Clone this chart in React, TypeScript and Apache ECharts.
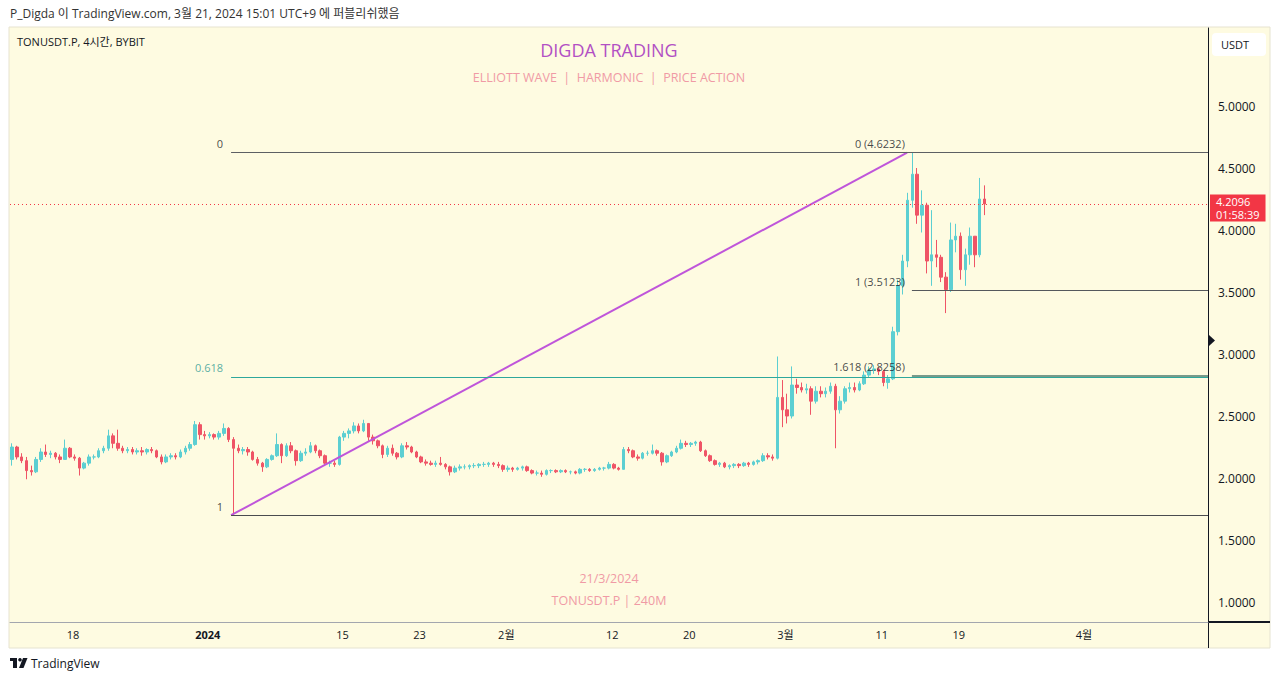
import React, { useEffect, useRef } from 'react';
import * as echarts from 'echarts';

// ---------- data (12h candles) ----------
const firstBar = '2023-12-11 16:00';
const barHours = 12;
const firstOpen = 2.15;
const closes = [
  2.25, 2.17, 2.14, 2.06, 2.05, 2.15, 2.21, 2.19, 2.20, 2.17,
  2.15, 2.24, 2.17, 2.16, 2.08, 2.12, 2.17, 2.17, 2.22, 2.24,
  2.34, 2.28, 2.24, 2.22, 2.23, 2.21, 2.22, 2.21, 2.23, 2.22,
  2.17, 2.13, 2.17, 2.18, 2.17, 2.21, 2.24, 2.27, 2.43, 2.35,
  2.34, 2.35, 2.33, 2.36, 2.40, 2.31, 2.24, 2.22, 2.23, 2.21,
  2.15, 2.12, 2.09, 2.15, 2.18, 2.27, 2.18, 2.26, 2.22, 2.14,
  2.20, 2.21, 2.26, 2.22, 2.18, 2.12, 2.12, 2.11, 2.33, 2.36,
  2.38, 2.42, 2.38, 2.44, 2.33, 2.30, 2.26, 2.19, 2.24, 2.20,
  2.17, 2.26, 2.25, 2.21, 2.17, 2.13, 2.12, 2.11, 2.12, 2.11,
  2.09, 2.05, 2.08, 2.09, 2.09, 2.10, 2.10, 2.11, 2.11, 2.12,
  2.11, 2.10, 2.07, 2.08, 2.07, 2.08, 2.09, 2.06, 2.04, 2.04,
  2.03, 2.06, 2.06, 2.05, 2.06, 2.05, 2.05, 2.04, 2.07, 2.07,
  2.06, 2.07, 2.08, 2.08, 2.11, 2.08, 2.07, 2.23, 2.22, 2.17,
  2.16, 2.20, 2.20, 2.22, 2.20, 2.13, 2.18, 2.21, 2.24, 2.28,
  2.27, 2.28, 2.29, 2.22, 2.18, 2.14, 2.11, 2.12, 2.09, 2.10,
  2.11, 2.10, 2.12, 2.11, 2.13, 2.14, 2.18, 2.17, 2.16, 2.65,
  2.55, 2.50, 2.75, 2.73, 2.71, 2.72, 2.62, 2.70, 2.68, 2.70,
  2.74, 2.55, 2.62, 2.72, 2.73, 2.71, 2.76, 2.83, 2.87, 2.88,
  2.86, 2.77, 2.80, 3.18, 3.55, 3.75, 4.24, 4.45, 4.12, 4.20,
  3.75, 3.80, 3.78, 3.62, 3.52, 3.92, 3.95, 3.68, 3.80, 3.95,
  3.80, 4.25, 4.2096,
];
const highs = [
  2.28, 2.26, 2.20, 2.17, 2.10, 2.17, 2.24, 2.27, 2.22, 2.21,
  2.19, 2.31, 2.25, 2.19, 2.17, 2.13, 2.19, 2.19, 2.24, 2.26,
  2.39, 2.36, 2.39, 2.26, 2.25, 2.25, 2.24, 2.25, 2.24, 2.25,
  2.23, 2.19, 2.19, 2.20, 2.20, 2.23, 2.26, 2.29, 2.46, 2.45,
  2.38, 2.37, 2.36, 2.38, 2.44, 2.41, 2.33, 2.27, 2.25, 2.25,
  2.22, 2.17, 2.13, 2.16, 2.19, 2.36, 2.28, 2.28, 2.29, 2.23,
  2.22, 2.24, 2.29, 2.27, 2.23, 2.19, 2.14, 2.14, 2.34, 2.38,
  2.40, 2.45, 2.44, 2.47, 2.44, 2.35, 2.31, 2.27, 2.26, 2.27,
  2.21, 2.28, 2.29, 2.26, 2.22, 2.18, 2.15, 2.14, 2.14, 2.17,
  2.12, 2.10, 2.10, 2.11, 2.11, 2.11, 2.12, 2.12, 2.13, 2.13,
  2.13, 2.13, 2.11, 2.10, 2.09, 2.09, 2.10, 2.10, 2.07, 2.06,
  2.06, 2.07, 2.07, 2.07, 2.07, 2.07, 2.06, 2.06, 2.08, 2.08,
  2.08, 2.08, 2.09, 2.09, 2.13, 2.12, 2.09, 2.25, 2.25, 2.23,
  2.19, 2.21, 2.22, 2.27, 2.23, 2.21, 2.19, 2.22, 2.26, 2.31,
  2.30, 2.29, 2.30, 2.30, 2.23, 2.19, 2.15, 2.13, 2.13, 2.11,
  2.12, 2.12, 2.13, 2.13, 2.14, 2.15, 2.20, 2.20, 2.19, 2.98,
  2.79, 2.68, 2.90, 2.80, 2.77, 2.76, 2.74, 2.74, 2.74, 2.73,
  2.77, 2.76, 2.66, 2.74, 2.77, 2.77, 2.78, 2.86, 2.90, 2.91,
  2.89, 2.87, 2.83, 3.22, 3.60, 3.80, 4.30, 4.6232, 4.50, 4.32,
  4.22, 4.16, 3.92, 3.80, 3.66, 4.06, 4.05, 3.98, 3.85, 4.02,
  3.95, 4.42, 4.36,
];
const lows = [
  2.10, 2.15, 2.12, 1.99, 2.02, 2.04, 2.13, 2.17, 2.16, 2.15,
  2.12, 2.15, 2.16, 2.14, 2.02, 2.07, 2.10, 2.15, 2.16, 2.20,
  2.22, 2.24, 2.22, 2.20, 2.20, 2.19, 2.19, 2.18, 2.19, 2.20,
  2.16, 2.11, 2.12, 2.15, 2.15, 2.16, 2.19, 2.22, 2.26, 2.31,
  2.31, 2.32, 2.31, 2.31, 2.34, 2.29, 1.70, 2.20, 2.19, 2.18,
  2.14, 2.10, 2.05, 2.08, 2.14, 2.17, 2.12, 2.17, 2.20, 2.10,
  2.13, 2.18, 2.20, 2.20, 2.16, 2.10, 2.09, 2.09, 2.10, 2.30,
  2.32, 2.36, 2.36, 2.37, 2.30, 2.27, 2.24, 2.16, 2.17, 2.18,
  2.15, 2.16, 2.23, 2.20, 2.16, 2.12, 2.10, 2.10, 2.09, 2.10,
  2.07, 2.02, 2.04, 2.06, 2.07, 2.07, 2.08, 2.08, 2.09, 2.09,
  2.09, 2.08, 2.05, 2.05, 2.05, 2.06, 2.06, 2.05, 2.03, 2.02,
  2.01, 2.02, 2.04, 2.04, 2.04, 2.04, 2.03, 2.03, 2.03, 2.05,
  2.05, 2.05, 2.06, 2.06, 2.07, 2.07, 2.06, 2.07, 2.20, 2.16,
  2.14, 2.15, 2.18, 2.19, 2.18, 2.10, 2.12, 2.17, 2.20, 2.23,
  2.25, 2.25, 2.26, 2.21, 2.17, 2.13, 2.10, 2.09, 2.08, 2.07,
  2.08, 2.08, 2.09, 2.09, 2.10, 2.11, 2.13, 2.15, 2.14, 2.15,
  2.41, 2.44, 2.48, 2.68, 2.69, 2.68, 2.51, 2.60, 2.65, 2.65,
  2.68, 2.24, 2.52, 2.60, 2.69, 2.69, 2.70, 2.75, 2.81, 2.84,
  2.83, 2.74, 2.72, 2.79, 3.15, 3.48, 3.70, 4.18, 4.05, 3.98,
  3.65, 3.55, 3.70, 3.58, 3.33, 3.50, 3.82, 3.60, 3.55, 3.72,
  3.70, 3.78, 4.12,
];

const tickDates = ['2023-12-18', '2024-01-01', '2024-01-15', '2024-01-23', '2024-02-01', '2024-02-12', '2024-02-20', '2024-03-01', '2024-03-11', '2024-03-19', '2024-04-01'];
const tickTexts = ['18', '2024', '15', '23', '2월', '12', '20', '3월', '11', '19', '4월'];
const priceTicks = [1.0, 1.5, 2.0, 2.5, 3.0, 3.5, 4.0, 4.5, 5.0];
const axisStart = '2023-12-11 11:00';
const axisEnd = '2024-04-13 21:00';
const priceMin = 0.839;
const priceMax = 5.629;

// Fib retracement (low → high) and trend-based extension
const fibHigh = 4.6232;
const fibLow = 1.70;
const fibLevels = [0, 0.618, 1];
const fibStart = '2024-01-03 10:00';
const trendEnd = '2024-03-13 15:00';
const extBase = 3.5123;
const extLevels = [0, 1, 1.618];
const extStart = '2024-03-14 03:00';

const lastPrice = 4.2096;
const countdown = '01:58:39';

// ---------- helpers ----------
const toTime = (s: string) => {
  const [d, t = '00:00'] = s.split(' ');
  const [y, m, dd] = d.split('-').map(Number);
  const [h, mi] = t.split(':').map(Number);
  return Date.UTC(y, m - 1, dd, h, mi);
};

const FONT = '"Open Sans", "Noto Sans CJK KR", sans-serif';
const UP = '#5ccfd2';
const DOWN = '#ef5466';
const INK = '#131722';

export default function App() {
  const ref = useRef<HTMLDivElement>(null);

  useEffect(() => {
    if (!ref.current) return;
    const chart = echarts.init(ref.current, undefined, { renderer: 'svg' });

    const t0 = toTime(firstBar);
    const step = barHours * 3600 * 1000;
    const candles = closes.map((c, i) => [
      t0 + i * step,
      i === 0 ? firstOpen : closes[i - 1],
      c,
      lows[i],
      highs[i],
    ]);
    const xMin = toTime(axisStart);
    const xMax = toTime(axisEnd);
    const tickTimes = tickDates.map((d) => toTime(d));

    const fibPrice = (lv: number) => fibHigh - lv * (fibHigh - fibLow);
    const extPrice = (lv: number) => fibHigh - lv * (fibHigh - extBase);
    const tFib = toTime(fibStart);
    const tExt = toTime(extStart);

    const fibColors = ['#5d5f63', '#2ea79c', '#4a4b4f'];
    const fibLabelColors = [INK, '#2e9a93', INK];
    const extColors = ['#5d5f63', '#55585c', '#4d7a6c'];

    const markData: any[] = [];
    fibLevels.forEach((lv, k) => {
      const p = fibPrice(lv);
      const ls = { color: fibColors[k], width: 1, type: 'solid' };
      markData.push([
        { coord: [tFib, p], lineStyle: ls },
        { coord: [xMax, p], lineStyle: ls },
      ]);
    });
    extLevels.forEach((lv, k) => {
      const p = extPrice(lv);
      const ls = { color: extColors[k], width: k === 2 ? 1.5 : 1, type: 'solid' };
      markData.push([
        { coord: [tExt, p], lineStyle: ls },
        { coord: [xMax, p], lineStyle: ls },
      ]);
    });
    markData.push({
      yAxis: lastPrice,
      lineStyle: { color: '#f23645', width: 1, type: [1, 3] },
      label: {
        show: true,
        position: 'end',
        distance: 2,
        formatter: `{p|${lastPrice.toFixed(4)}}\n{t|${countdown}}`,
        backgroundColor: '#f23645',
        color: '#ffffff',
        fontFamily: FONT,
        fontSize: 11,
        lineHeight: 13,
        padding: [1, 6, 0, 6],
        align: 'left',
        offset: [0, 4],
        rich: {
          p: { color: '#ffffff', fontSize: 11, lineHeight: 13, fontFamily: FONT },
          t: { color: '#ffffff', fontSize: 11, lineHeight: 13, fontFamily: FONT },
        },
      },
    });

    const fibLabelData = fibLevels.map((lv, k) => ({
      value: [tFib, fibPrice(lv)],
      name: String(lv),
      label: { color: fibLabelColors[k] },
    }));
    const extLabelData = extLevels.map((lv) => ({
      value: [tExt, extPrice(lv)],
      name: `${lv} (${extPrice(lv).toFixed(4)})`,
    }));

    const subStyle = { color: '#f09aa5', fontSize: 12.5, fontWeight: 'normal', fontFamily: FONT };

    const option: any = {
      animation: false,
      backgroundColor: '#ffffff',
      textStyle: { fontFamily: FONT },
      title: [
        { text: 'DIGDA TRADING', left: 609, top: 41, textAlign: 'center', padding: 0,
          textStyle: { color: '#b250c4', fontSize: 18, fontWeight: 'normal', fontFamily: FONT } },
        { text: 'ELLIOTT WAVE  |  HARMONIC  |  PRICE ACTION', left: 609, top: 71, textAlign: 'center', padding: 0,
          textStyle: subStyle },
        { text: '21/3/2024', left: 609, top: 572, textAlign: 'center', padding: 0, textStyle: subStyle },
        { text: 'TONUSDT.P | 240M', left: 609, top: 594, textAlign: 'center', padding: 0, textStyle: subStyle },
      ],
      grid: { left: 10, right: 72, top: 28, bottom: 59, containLabel: false },
      xAxis: {
        type: 'value',
        min: xMin,
        max: xMax,
        axisLine: { show: true, lineStyle: { color: '#a3a6ae', width: 1 } },
        axisTick: { show: false },
        splitLine: { show: false },
        axisLabel: {
          customValues: tickTimes,
          margin: 7,
          color: INK,
          fontSize: 11,
          fontFamily: FONT,
          hideOverlap: false,
          formatter: (v: number) => {
            let best = 0;
            tickTimes.forEach((t, i) => {
              if (Math.abs(t - v) < Math.abs(tickTimes[best] - v)) best = i;
            });
            const txt = tickTexts[best];
            return txt === '2024' ? `{b|${txt}}` : txt;
          },
          rich: { b: { fontWeight: 'bold', fontSize: 11, color: INK, fontFamily: FONT } },
        },
      },
      yAxis: {
        type: 'value',
        position: 'right',
        min: priceMin,
        max: priceMax,
        axisLine: { show: true, lineStyle: { color: INK, width: 1 } },
        axisTick: { show: false },
        splitLine: { show: false },
        axisLabel: {
          customValues: priceTicks,
          margin: 10,
          color: INK,
          fontSize: 12,
          fontFamily: FONT,
          formatter: (v: number) => v.toFixed(4),
        },
      },
      series: [
        {
          type: 'candlestick',
          name: 'TONUSDT.P',
          data: candles,
          barWidth: 3,
          itemStyle: { color: UP, color0: DOWN, borderColor: UP, borderColor0: DOWN, borderWidth: 1 },
          markLine: {
            symbol: ['none', 'none'],
            silent: true,
            label: { show: false },
            data: markData,
          },
          z: 3,
        },
        {
          type: 'line',
          name: 'trend',
          data: [[tFib, fibLow], [toTime(trendEnd), fibHigh]],
          showSymbol: false,
          symbol: 'none',
          lineStyle: { color: '#bf55da', width: 2 },
          z: 4,
        },
        {
          type: 'scatter',
          name: 'fibLabels',
          data: fibLabelData,
          symbolSize: 0,
          label: {
            show: true, position: 'left', distance: 8, offset: [0, -9],
            formatter: (p: any) => p.name, fontSize: 11, fontFamily: FONT, color: INK,
          },
          z: 5,
        },
        {
          type: 'scatter',
          name: 'extLabels',
          data: extLabelData,
          symbolSize: 0,
          label: {
            show: true, position: 'left', distance: 7, offset: [0, -9],
            formatter: (p: any) => p.name, fontSize: 11, fontFamily: FONT, color: INK,
          },
          z: 5,
        },
      ],
      graphic: [
        { type: 'rect', z: -10, silent: true, shape: { x: 9, y: 27, width: 1261, height: 621 },
          style: { fill: '#fefbe1', stroke: '#e6e3d0', lineWidth: 1 } },
        { type: 'text', x: 10, y: 13, silent: true,
          style: { text: 'P_Digda 이 TradingView.com, 3월 21, 2024 15:01 UTC+9 에 퍼블리쉬했음', fill: '#333333',
            font: `12px ${FONT}`, verticalAlign: 'middle' } },
        { type: 'text', x: 17, y: 41, silent: true,
          style: { text: 'TONUSDT.P, 4시간, BYBIT', fill: INK, font: `11px ${FONT}`, verticalAlign: 'middle' } },
        { type: 'rect', silent: true, shape: { x: 1212, y: 33, width: 54, height: 23, r: 4 },
          style: { fill: '#ffffff' } },
        { type: 'text', x: 1221, y: 44.5, silent: true,
          style: { text: 'USDT', fill: INK, font: `11px ${FONT}`, verticalAlign: 'middle' } },
        { type: 'polygon', silent: true, shape: { points: [[1209, 335], [1215, 340.5], [1209, 346]] },
          style: { fill: INK } },
        { type: 'line', silent: true, shape: { x1: 1208.5, y1: 622, x2: 1208.5, y2: 648 },
          style: { stroke: INK, lineWidth: 1 } },
        { type: 'line', silent: true, shape: { x1: 1208, y1: 622, x2: 1270, y2: 622 },
          style: { stroke: INK, lineWidth: 2 } },
        { type: 'rect', silent: true, shape: { x: 10, y: 658, width: 7, height: 3 }, style: { fill: INK } },
        { type: 'rect', silent: true, shape: { x: 13, y: 658, width: 4, height: 10 }, style: { fill: INK } },
        { type: 'circle', silent: true, shape: { cx: 20, cy: 659.8, r: 1.8 }, style: { fill: INK } },
        { type: 'polygon', silent: true, shape: { points: [[23, 658], [27.5, 658], [23.5, 668], [19, 668]] },
          style: { fill: INK } },
        { type: 'text', x: 31, y: 663, silent: true,
          style: { text: 'TradingView', fill: INK, font: `12px ${FONT}`, verticalAlign: 'middle' } },
      ],
    };

    chart.setOption(option);
    return () => chart.dispose();
  }, []);

  return (
    <div
      ref={ref}
      style={{ position: 'fixed', left: 0, top: 0, width: 1280, height: 681 }}
    />
  );
}
